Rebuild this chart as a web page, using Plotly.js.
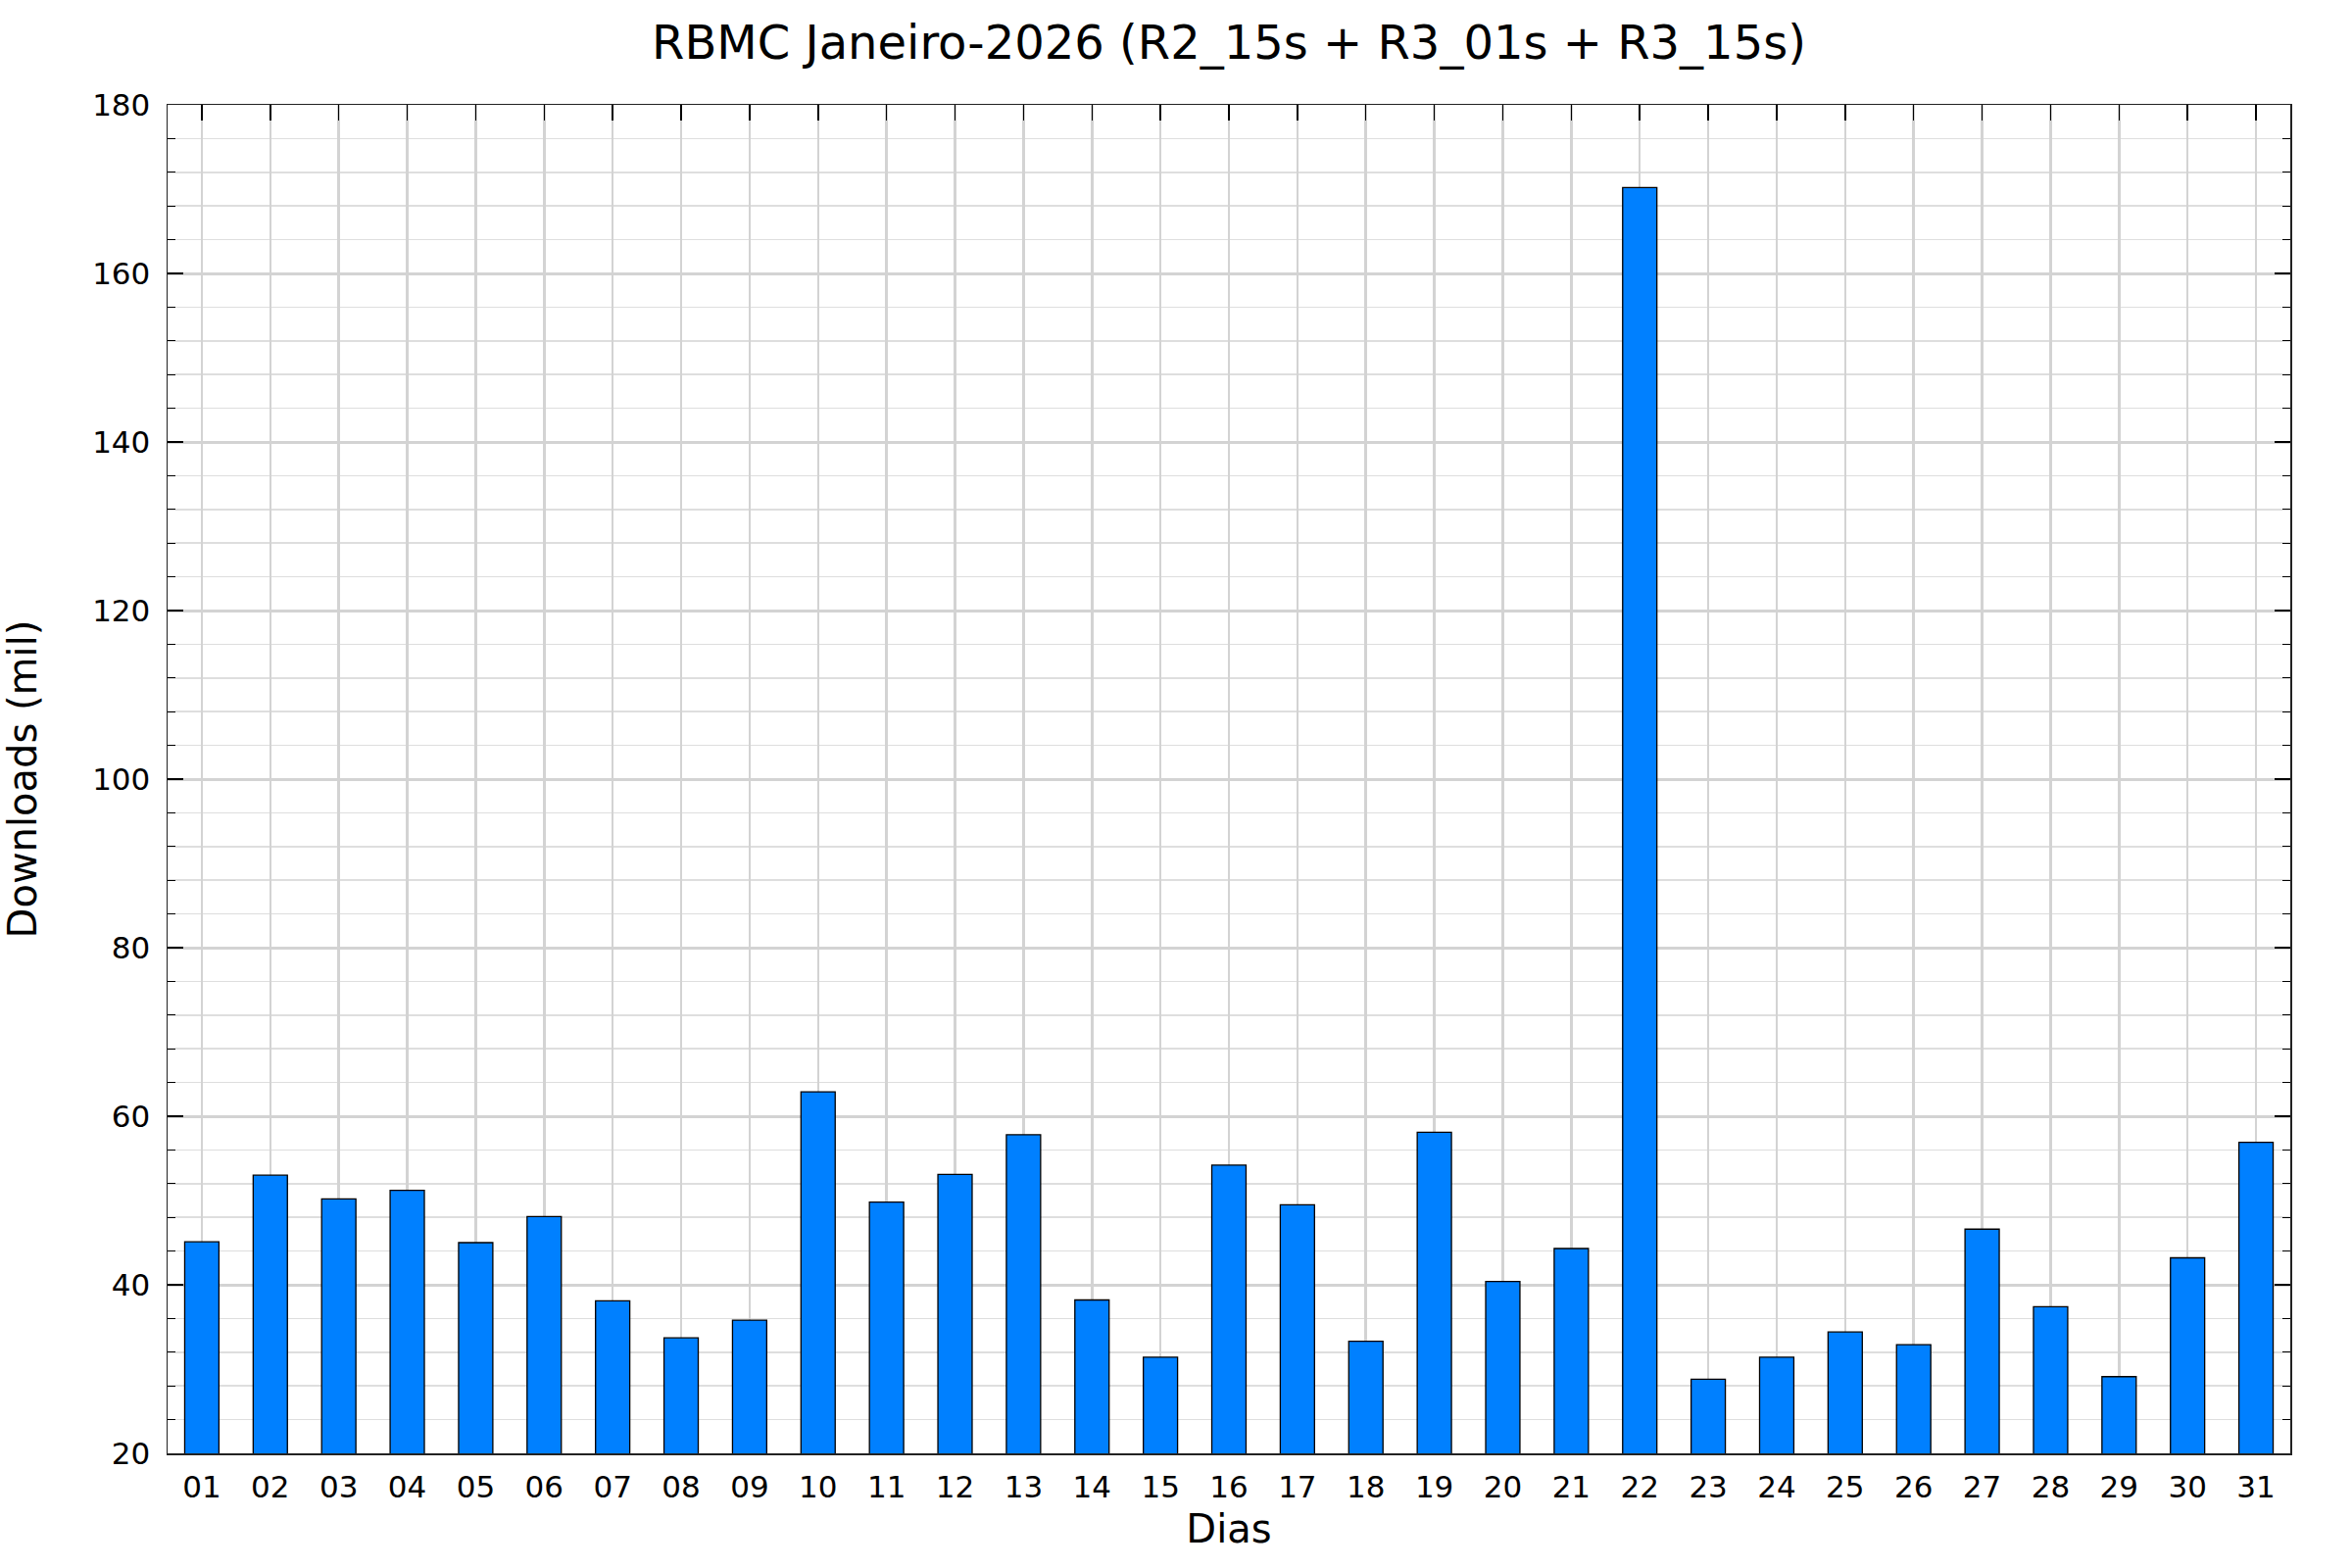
<!DOCTYPE html>
<html>
<head>
<meta charset="utf-8">
<script src="https://cdn.plot.ly/plotly-3.0.1.min.js"></script>
<style>html,body{margin:0;padding:0;background:#fff;}#chart{width:2400px;height:1600px;}</style>
</head>
<body>
<div id="chart"></div>
<script>
const dias = ['01','02','03','04','05','06','07','08','09','10','11','12','13','14','15','16','17','18','19','20','21','22','23','24','25','26','27','28','29','30','31'];
const downloads = [45.1, 53.0, 50.2, 51.2, 45.0, 48.1, 38.1, 33.7, 35.8, 62.9, 49.8, 53.1, 57.8, 38.2, 31.4, 54.2, 49.5, 33.3, 58.1, 40.4, 44.3, 170.2, 28.8, 31.4, 34.4, 32.9, 46.6, 37.4, 29.1, 43.2, 56.9];
const titulo = 'RBMC Janeiro-2026 (R2_15s + R3_01s + R3_15s)';
const tituloX = 'Dias';
const tituloY = 'Downloads (mil)';

const fontFam = 'DejaVu Sans, sans-serif';
const trace = {
  type: 'bar',
  x: dias,
  y: downloads,
  marker: {color: '#0080ff', line: {color: '#000000', width: 1.3}},
  hoverinfo: 'x+y'
};
const layout = {
  width: 2400, height: 1600,
  paper_bgcolor: '#ffffff', plot_bgcolor: '#ffffff',
  margin: {l: 171, r: 63, t: 107, b: 117, pad: 0},
  bargap: 0.5,
  showlegend: false,
  font: {family: fontFam, color: '#000000', size: 31},
  title: {text: titulo, font: {family: fontFam, size: 48, color: '#000'}, x: 0.5, xref: 'paper', xanchor: 'center', y: 1 - 43/1600, yref: 'container', yanchor: 'middle'},
  xaxis: {
    type: 'category',
    range: [-0.5, 30.5],
    title: {text: tituloX, font: {size: 40}, standoff: 12},
    showgrid: true, gridcolor: '#d3d3d3', gridwidth: 2.5,
    ticks: 'inside', ticklen: 16, tickwidth: 1.5, tickcolor: '#000',
    showline: true, linecolor: '#222', linewidth: 1.5, mirror: 'ticks',
    tickfont: {size: 31}, ticklabelstandoff: 6,
    layer: 'below traces',
    zeroline: false, automargin: false
  },
  yaxis: {
    range: [20, 180], dtick: 20, tick0: 0,
    title: {text: tituloY, font: {size: 40}, standoff: 56},
    showgrid: true, gridcolor: '#d3d3d3', gridwidth: 3,
    ticks: 'inside', ticklen: 16, tickwidth: 1.5, tickcolor: '#000',
    showline: true, linecolor: '#222', linewidth: 1.5, mirror: 'ticks',
    tickfont: {size: 31}, ticklabelstandoff: 10,
    minor: {dtick: 4, tick0: 0, ticks: 'inside', ticklen: 8, tickwidth: 1.2, tickcolor: '#000', showgrid: true, gridcolor: '#dedede', gridwidth: 1.5},
    layer: 'below traces',
    zeroline: false, automargin: false
  }
};
Plotly.newPlot('chart', [trace], layout, {displayModeBar: false, staticPlot: true});
</script>
</body>
</html>
